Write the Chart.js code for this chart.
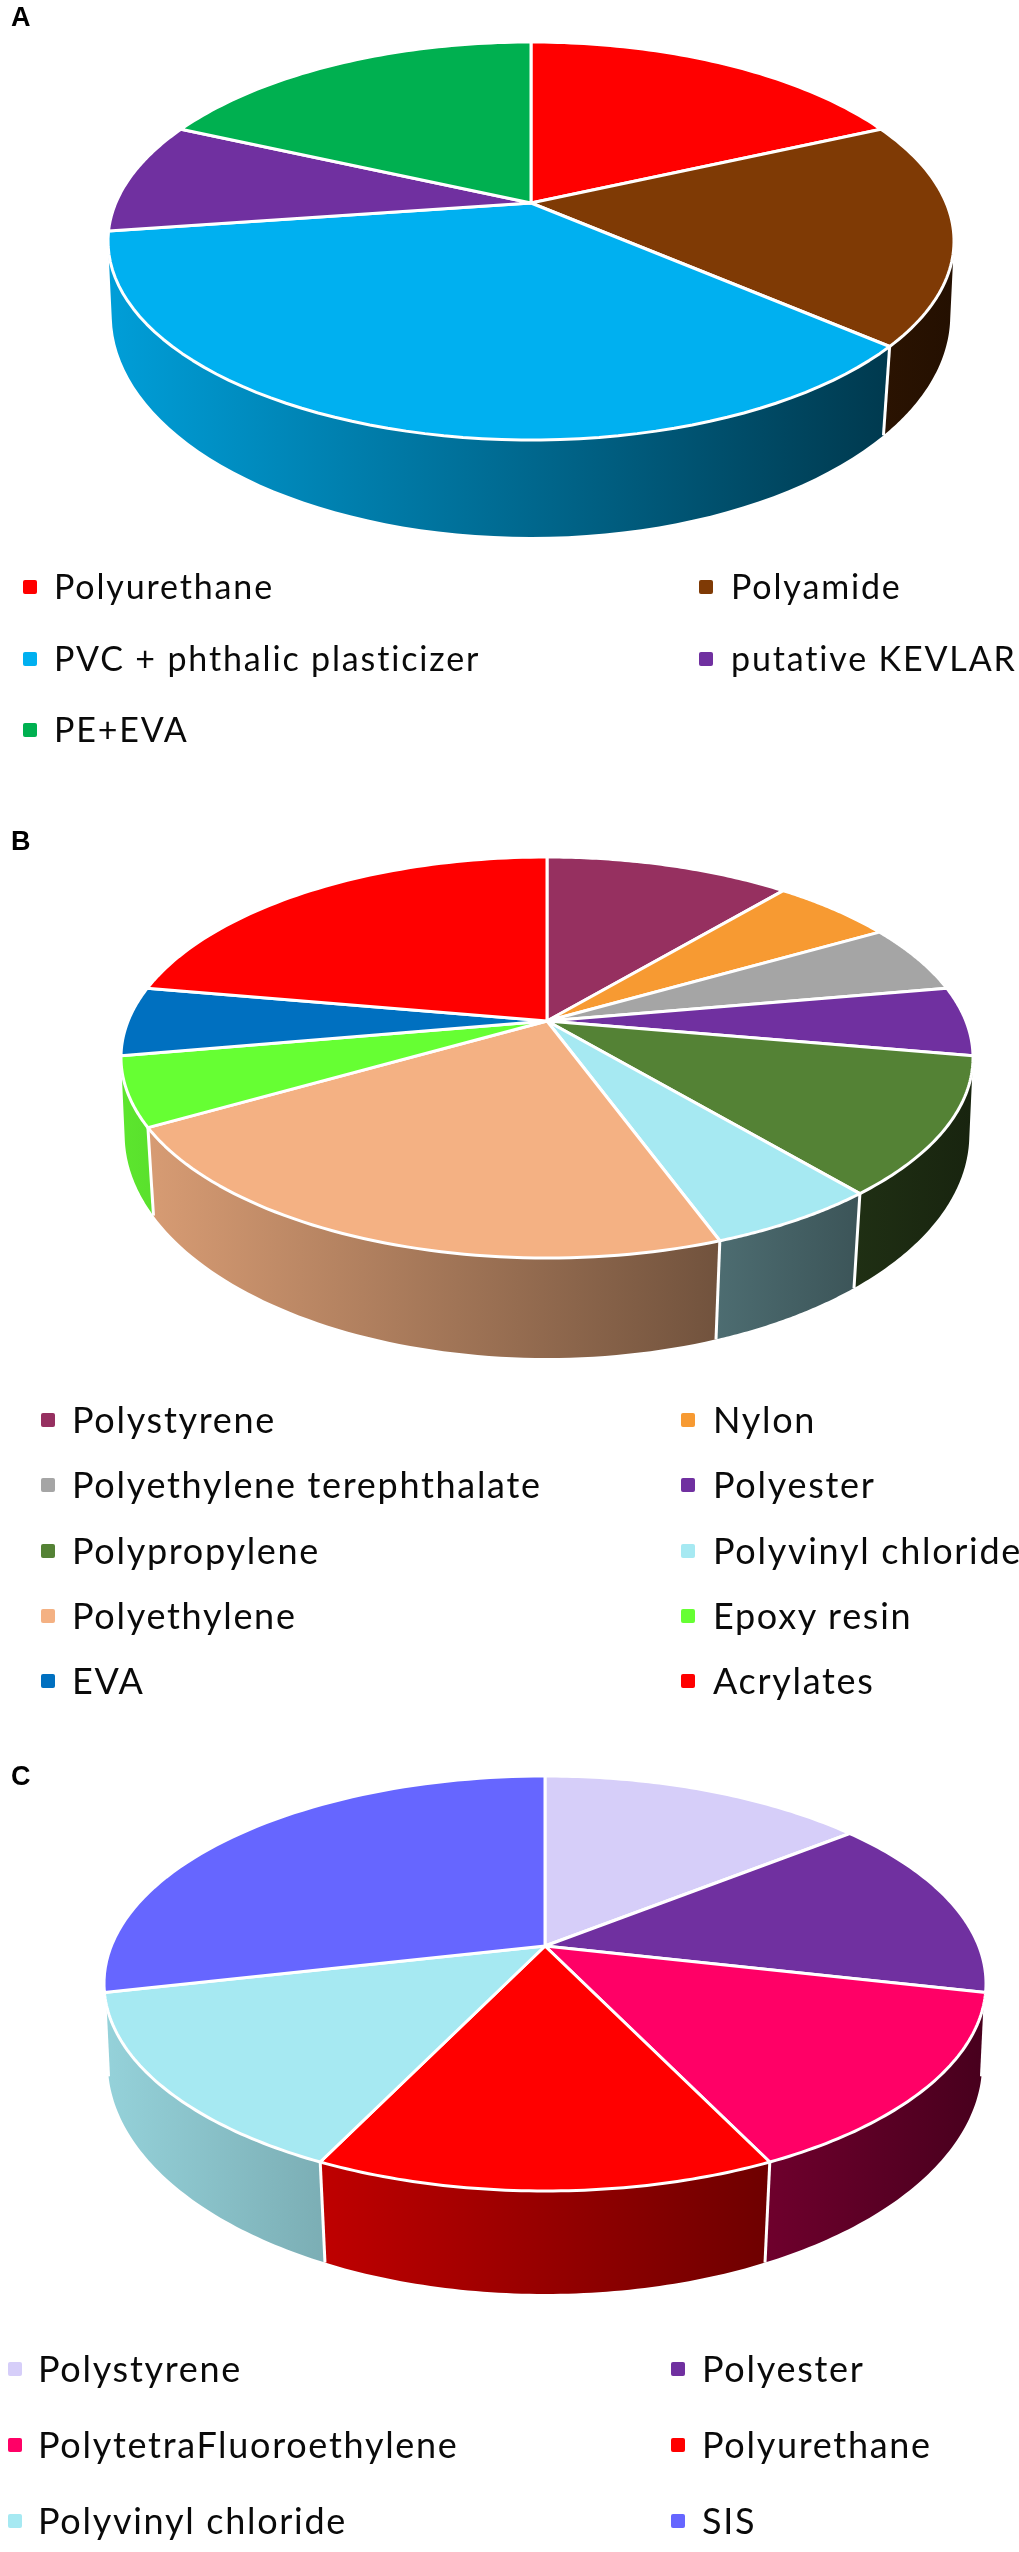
<!DOCTYPE html>
<html>
<head>
<meta charset="utf-8">
<title>Pie charts</title>
<script src="https://cdn.jsdelivr.net/npm/chart.js@4"></script>
<style>
  html, body { margin: 0; padding: 0; background: #fff; }
  #page { position: relative; width: 1019px; height: 2552px; overflow: hidden; }
  canvas { position: absolute; left: 0; }
  .item { position: absolute; font-family: Lato, sans-serif; color: #0a0a0a; white-space: nowrap; line-height: 1; }
  .box { position: absolute; width: 14px; height: 14px; border-radius: 2px; }
</style>
</head>
<body>
<div id="page"></div>
<script>
// panel A
var labelsA = ['Polyurethane', 'Polyamide', 'PVC + phthalic plasticizer', 'putative KEVLAR', 'PE+EVA'];
var valuesA = [2, 2, 4, 1, 2];
var colorsA = ['#FF0000', '#7F3A05', '#00B0F0', '#7030A0', '#00B050'];

// panel B
var labelsB = ['Polystyrene', 'Nylon', 'Polyethylene terephthalate', 'Polyester', 'Polypropylene',
  'Polyvinyl chloride', 'Polyethylene', 'Epoxy resin', 'EVA', 'Acrylates'];
var valuesB = [2, 1, 1, 1, 2, 1, 4, 1, 1, 4];
var colorsB = ['#963060', '#F79A32', '#A5A5A5', '#7030A0', '#548235', '#A6E9F2', '#F4B183', '#66FF33', '#0070C0', '#FF0000'];

// panel C
var labelsC = ['Polystyrene', 'Polyester', 'PolytetraFluoroethylene', 'Polyurethane', 'Polyvinyl chloride', 'SIS'];
var valuesC = [1, 1, 1, 1, 1, 2];
var colorsC = ['#D6CEF9', '#7030A0', '#FF0066', '#FF0000', '#A6E9F2', '#6666FF'];

// page layout
var panels = [
  { letter: 'A', labels: labelsA, values: valuesA, colors: colorsA, top: 0, height: 800,
    pie: { cx: 531, rx: 423, rimTop: 42, apex: 203, rimBottom: 440, wallBottom: 537 },
    boxX: [23, 699], textX: [54, 731], rows: [587, 659, 730], font: 34, spacing: 1.85 },
  { letter: 'B', labels: labelsB, values: valuesB, colors: colorsB, top: 824, height: 880,
    pie: { cx: 547, rx: 426, rimTop: 857, apex: 1021, rimBottom: 1258, wallBottom: 1358 },
    boxX: [41, 681], textX: [72, 713], rows: [1420, 1485, 1551, 1616, 1681], font: 36, spacing: 1.7 },
  { letter: 'C', labels: labelsC, values: valuesC, colors: colorsC, top: 1759, height: 793,
    pie: { cx: 545, rx: 441, rimTop: 1776, apex: 1946, rimBottom: 2191, wallBottom: 2294 },
    boxX: [8, 671], textX: [38, 702], rows: [2369, 2445, 2521], font: 36, spacing: 1.7 }
];

function shade(hex, f) {
  var n = parseInt(hex.slice(1), 16);
  var r = Math.round(((n >> 16) & 255) * f);
  var g = Math.round(((n >> 8) & 255) * f);
  var b = Math.round((n & 255) * f);
  return 'rgb(' + r + ',' + g + ',' + b + ')';
}

// top disc and lower rim as perspective planes
function makePlanes(pie, canvasTop) {
  var up = pie.apex - pie.rimTop;
  var down = pie.rimBottom - pie.apex;
  var p = (down - up) / (down + up);
  var h = up * (1 + p);
  var k = pie.rx * Math.sqrt(1 - p * p);
  var y0 = pie.apex - canvasTop;
  var lowP = p * 0.92;
  var lowH = h * 1.12;
  var dz = (pie.wallBottom - pie.apex) - lowH / (1 - lowP);
  return {
    top: { cx: pie.cx, y0: y0, k: k, h: h, p: p },
    low: { cx: pie.cx, y0: y0 + dz, k: k * 0.994, h: lowH, p: lowP }
  };
}

function project(plane, angle, r) {
  var u = Math.cos(angle) * r;
  var v = -Math.sin(angle) * r;
  var w = 1 + plane.p * v;
  return { x: plane.cx + plane.k * u / w, y: plane.y0 - plane.h * v / w };
}

// draws the pie's own arc elements as a tilted 3d disc
var tiltedPie = {
  id: 'tiltedPie',
  beforeDatasetDraw: function(chart) {
    var cfg = chart.options.plugins.tiltedPie;
    var planes = makePlanes(cfg.pie, cfg.canvasTop);
    var arcs = chart.getDatasetMeta(0).data;
    var ctx = chart.ctx;
    var steps = 60;
    var left = cfg.pie.cx - cfg.pie.rx;
    var right = cfg.pie.cx + cfg.pie.rx;
    // the wall only shows on the near side of the widest line of the disc
    var nearFrom = Math.asin(planes.top.p);
    var nearTo = Math.PI - nearFrom;
    ctx.save();
    ctx.lineJoin = 'round';

    // walls
    arcs.forEach(function(arc, i) {
      var from = Math.max(arc.startAngle, nearFrom);
      var to = Math.min(arc.endAngle, nearTo);
      if (from >= to) return;
      var grad = ctx.createLinearGradient(left, 0, right, 0);
      grad.addColorStop(0, shade(cfg.colors[i], 0.9));
      grad.addColorStop(1, shade(cfg.colors[i], 0.28));
      ctx.beginPath();
      for (var s = 0; s <= steps; s++) {
        var q = project(planes.top, from + (to - from) * s / steps, 1);
        ctx[s ? 'lineTo' : 'moveTo'](q.x, q.y);
      }
      for (s = steps; s >= 0; s--) {
        q = project(planes.low, from + (to - from) * s / steps, 1);
        ctx.lineTo(q.x, q.y);
      }
      ctx.closePath();
      ctx.fillStyle = grad;
      ctx.fill();
    });

    // white edge between neighbouring walls
    ctx.strokeStyle = '#fff';
    ctx.lineWidth = 3;
    arcs.forEach(function(arc) {
      if (arc.endAngle <= nearFrom || arc.endAngle >= nearTo) return;
      var a = project(planes.top, arc.endAngle, 1);
      var b = project(planes.low, arc.endAngle, 1);
      ctx.beginPath();
      ctx.moveTo(a.x, a.y);
      ctx.lineTo(b.x, b.y);
      ctx.stroke();
    });

    // top faces
    arcs.forEach(function(arc, i) {
      var c = project(planes.top, 0, 0);
      ctx.beginPath();
      ctx.moveTo(c.x, c.y);
      for (var s = 0; s <= steps; s++) {
        var q = project(planes.top, arc.startAngle + (arc.endAngle - arc.startAngle) * s / steps, 1);
        ctx.lineTo(q.x, q.y);
      }
      ctx.closePath();
      ctx.fillStyle = cfg.colors[i];
      ctx.fill();
      ctx.stroke();
    });
    ctx.restore();
    return false;
  }
};

function buildLegend(page, chart, panel) {
  var items = chart.options.plugins.legend.labels.generateLabels(chart);
  items.forEach(function(item, i) {
    var col = i % 2;
    var rowY = panel.rows[Math.floor(i / 2)];
    var box = document.createElement('div');
    box.className = 'box';
    box.style.left = panel.boxX[col] + 'px';
    box.style.top = (rowY - 7) + 'px';
    box.style.background = item.fillStyle;
    page.appendChild(box);
    var txt = document.createElement('div');
    txt.className = 'item';
    txt.textContent = item.text;
    txt.style.left = panel.textX[col] + 'px';
    txt.style.top = (rowY - panel.font * 0.527) + 'px';
    txt.style.fontSize = panel.font + 'px';
    txt.style.letterSpacing = panel.spacing + 'px';
    page.appendChild(txt);
  });
}

var page = document.getElementById('page');
panels.forEach(function(panel) {
  var canvas = document.createElement('canvas');
  canvas.width = 1019;
  canvas.height = panel.height;
  canvas.style.top = panel.top + 'px';
  canvas.style.width = '1019px';
  canvas.style.height = panel.height + 'px';
  page.appendChild(canvas);

  var chart = new Chart(canvas.getContext('2d'), {
    type: 'pie',
    data: {
      labels: panel.labels,
      datasets: [{ data: panel.values, backgroundColor: panel.colors, borderColor: '#fff' }]
    },
    plugins: [tiltedPie],
    options: {
      responsive: false,
      animation: false,
      layout: { padding: { left: 11 } },
      plugins: {
        legend: { display: false },
        tooltip: { enabled: false },
        title: {
          display: true,
          text: panel.letter,
          align: 'start',
          color: '#000',
          font: { family: 'Liberation Sans', size: 27, weight: 'bold' },
          padding: { top: 2, bottom: 0 }
        },
        tiltedPie: { pie: panel.pie, colors: panel.colors, canvasTop: panel.top }
      }
    }
  });
  buildLegend(page, chart, panel);
});
</script>
</body>
</html>
